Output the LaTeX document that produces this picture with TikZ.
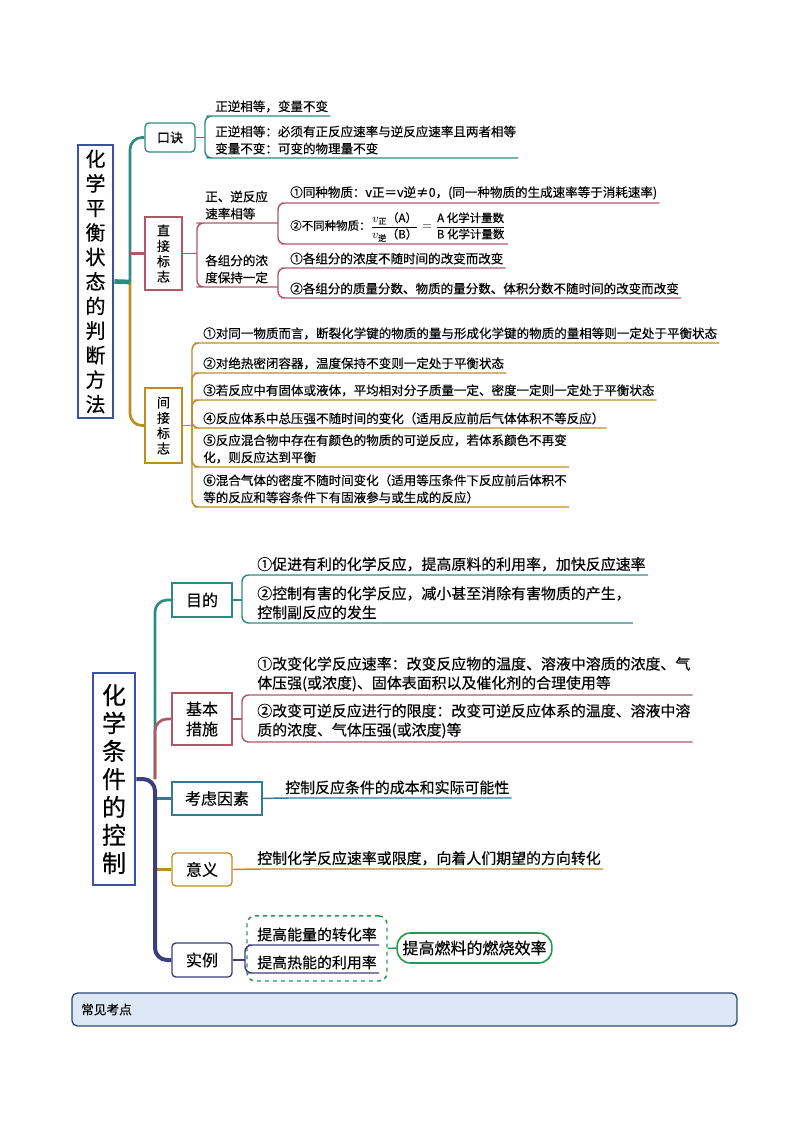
\documentclass[tikz,border=0pt]{standalone}
\usepackage{amsmath}
\usepackage{fontspec}
\setmainfont{Noto Sans CJK SC}[UprightFeatures={FakeBold=0.35}]
\usepackage{tikz}
\usetikzlibrary{fit}
\definecolor{titleblue}{RGB}{60,80,170}
\definecolor{mapteal}{RGB}{45,140,128}
\definecolor{maprose}{RGB}{176,88,104}
\definecolor{mapgold}{RGB}{190,140,35}
\definecolor{mapnavy}{RGB}{62,62,125}
\definecolor{mapsteel}{RGB}{55,120,150}
\definecolor{mapgreen}{RGB}{40,150,85}
\definecolor{notefill}{RGB}{220,232,245}
\definecolor{noteedge}{RGB}{45,70,115}

\begin{document}
\begin{tikzpicture}[
    x=0.75pt, y=-0.75pt,
    headbox/.style={draw=titleblue, line width=2.2pt, align=center, inner sep=0pt},
    topic/.style={draw=#1, line width=1pt, align=center, inner sep=0pt,
                  font=\fontsize{9.8}{11.5}\selectfont},
    bigtopic/.style={topic=#1, font=\fontsize{12}{15}\selectfont},
    leaf/.style={anchor=south west, align=left, inner xsep=1.5pt, inner ysep=2.5pt,
                 font=\fontsize{9.4}{12.8}\selectfont},
    bigleaf/.style={leaf, font=\fontsize{11.2}{14.3}\selectfont},
    twig/.style={draw=#1, line width=1.1pt, rounded corners=5pt},
    limb/.style={draw=#1, line width=2pt, rounded corners=9pt},
]
\useasboundingbox (0,0) rectangle (794,1123);

%% ---- upper map
\node[headbox, font=\fontsize{15}{18.4}\selectfont,
      minimum width=26.25pt, minimum height=204.75pt] (balance) at (95.5,281.5)
    {化\\学\\平\\衡\\状\\态\\的\\判\\断\\方\\法};
\coordinate (hubA) at (130,282);

\node[topic=mapteal, rounded corners=3pt, minimum width=37.5pt, minimum height=21.75pt]
    (koujue) at (170,137.5) {口诀};
\node[topic=maprose, minimum width=27.75pt, minimum height=54.75pt]
    (zhijie) at (163.5,253.5) {直\\接\\标\\志};
\node[topic=mapgold, minimum width=27.75pt, minimum height=56.25pt]
    (jianjie) at (163.5,425.5) {间\\接\\标\\志};

\coordinate (kb) at (205,137.5);
\node[leaf] (k1) at (213,116) {正逆相等，变量不变};
\node[leaf] (k2) at (213,158) {正逆相等：必须有正反应速率与逆反应速率且两者相等\\变量不变：可变的物理量不变};

\coordinate (zb) at (197,253.5);
\coordinate (zb1) at (278,223);
\coordinate (zb2) at (278,287);
\node[leaf] (z1) at (203,223) {正、逆反应\\速率相等};
\node[leaf] (z2) at (203,287) {各组分的浓\\度保持一定};
\node[leaf] (z11) at (288,203) {①同种物质：v正＝v逆≠0，(同一种物质的生成速率等于消耗速率)};
\node[leaf, font=\fontsize{8.6}{10}\selectfont, inner ysep=1.5pt] (z12) at (288,244)
    {②不同种物质：$\dfrac{v_{\text{正}}\text{（A）}}{v_{\text{逆}}\text{（B）}}=\dfrac{\text{A 化学计量数}}{\text{B 化学计量数}}$};
\node[leaf] (z21) at (288,268) {①各组分的浓度不随时间的改变而改变};
\node[leaf] (z22) at (288,298) {②各组分的质量分数、物质的量分数、体积分数不随时间的改变而改变};

\coordinate (jb) at (192,425.5);
\node[leaf] (j1) at (201,343) {①对同一物质而言，断裂化学键的物质的量与形成化学键的物质的量相等则一定处于平衡状态};
\node[leaf] (j2) at (201,373) {②对绝热密闭容器，温度保持不变则一定处于平衡状态};
\node[leaf] (j3) at (201,400) {③若反应中有固体或液体，平均相对分子质量一定、密度一定则一定处于平衡状态};
\node[leaf] (j4) at (201,428) {④反应体系中总压强不随时间的变化（适用反应前后气体体积不等反应）};
\node[leaf] (j5) at (201,467) {⑤反应混合物中存在有颜色的物质的可逆反应，若体系颜色不再变\\化，则反应达到平衡};
\node[leaf] (j6) at (201,507) {⑥混合气体的密度不随时间变化（适用等压条件下反应前后体积不\\等的反应和等容条件下有固液参与或生成的反应）};

\draw[limb=mapteal] (hubA) |- (koujue.west);
\draw[twig=maprose, line width=1.6pt] (zhijie.west -| hubA) -- (zhijie.west);
\draw[limb=mapgold] (hubA) |- (jianjie.west);
\draw[mapteal, line width=3.5pt] (balance.east) -- (hubA);

\draw[twig=mapteal] (koujue.east) -- (kb);
\foreach \n in {k1,k2}
    \draw[twig=mapteal] (kb) |- (\n.south west) -- (\n.south east);

\draw[twig=maprose] (zhijie.east) -- (zb);
\draw[twig=maprose] (zb) |- (z1.south west) -- (zb1);
\draw[twig=maprose] (zb) |- (z2.south west) -- (zb2);
\foreach \n in {z11,z12}
    \draw[twig=maprose] (zb1) |- (\n.south west) -- (\n.south east);
\foreach \n in {z21,z22}
    \draw[twig=maprose] (zb2) |- (\n.south west) -- (\n.south east);

\draw[twig=mapgold] (jianjie.east) -- (jb);
\foreach \n in {j1,j2,j3,j4,j5,j6}
    \draw[twig=mapgold] (jb) |- (\n.south west) -- (\n.south east);

%% ---- lower map
\node[headbox, font=\fontsize{18}{21}\selectfont,
      minimum width=31.5pt, minimum height=159pt] (control) at (114,779)
    {化\\学\\条\\件\\的\\控\\制};
\coordinate (hubB) at (155,779);

\node[bigtopic=mapteal, minimum width=45pt, minimum height=25.5pt] (mudi) at (202,600) {目的};
\node[bigtopic=maprose, minimum width=45pt, minimum height=39pt] (cuoshi) at (202,719) {基本\\措施};
\node[bigtopic=mapsteel, minimum width=67.5pt, minimum height=24.75pt] (yinsu) at (217,798.5) {考虑因素};
\node[bigtopic=mapgold, rounded corners=3pt, minimum width=45pt, minimum height=24.75pt] (yiyi) at (202,869.5) {意义};
\node[bigtopic=mapnavy, rounded corners=3pt, minimum width=45pt, minimum height=25.5pt] (shili) at (202,960) {实例};

\coordinate (mb) at (242,600);
\node[bigleaf] (m1) at (255,575) {①促进有利的化学反应，提高原料的利用率，加快反应速率};
\node[bigleaf] (m2) at (255,623) {②控制有害的化学反应，减小甚至消除有害物质的产生，\\控制副反应的发生};

\coordinate (cb) at (242,719);
\node[bigleaf] (c1) at (255,695) {①改变化学反应速率：改变反应物的温度、溶液中溶质的浓度、气\\体压强(或浓度)、固体表面积以及催化剂的合理使用等};
\node[bigleaf] (c2) at (255,742) {②改变可逆反应进行的限度：改变可逆反应体系的温度、溶液中溶\\质的浓度、气体压强(或浓度)等};

\node[bigleaf] (yt) at (283,798) {控制反应条件的成本和实际可能性};
\node[bigleaf] (yyt) at (255,869) {控制化学反应速率或限度，向着人们期望的方向转化};

\coordinate (sb) at (245,960);
\node[bigleaf] (s1) at (255,945) {提高能量的转化率};
\node[bigleaf] (s2) at (255,973) {提高热能的利用率};
\node[draw=mapgreen, dashed, line width=1.1pt, rounded corners=6pt, inner sep=6pt, fit=(s1)(s2)] (group) {};
\node[bigtopic=mapgreen, line width=1.2pt, rounded corners=10pt, minimum width=116pt, minimum height=22.5pt]
    (ranshao) at (474.5,948) {提高燃料的燃烧效率};

\draw[limb=mapteal] (hubB) |- (mudi.west);
\draw[limb=maprose] (hubB) |- (cuoshi.west);
\draw[twig=mapsteel, line width=1.6pt] (yinsu.west -| hubB) -- (yinsu.west);
\draw[twig=mapgold, line width=1.6pt] (yiyi.west -| hubB) -- (yiyi.west);
\draw[limb=mapnavy, line width=3pt] (control.east) -- (hubB) |- (shili.west);

\draw[twig=mapteal] (mudi.east) -- (mb);
\foreach \n in {m1,m2}
    \draw[twig=mapteal] (mb) |- (\n.south west) -- (\n.south east);
\draw[twig=maprose] (cuoshi.east) -- (cb);
\foreach \n in {c1,c2}
    \draw[twig=maprose] (cb) |- (\n.south west) -- (\n.south east);
\draw[twig=mapsteel] (yinsu.east) -- (yt.south west) -- (yt.south east);
\draw[twig=mapgold] (yiyi.east) -- (yyt.south west) -- (yyt.south east);
\draw[twig=mapnavy] (shili.east) -- (sb);
\foreach \n in {s1,s2}
    \draw[twig=mapnavy] (sb) |- (\n.south west) -- (\n.south east);
\draw[twig=mapgreen] (group.east) -- (ranshao.west);

%% ---- footer bar
\node[draw=noteedge, fill=notefill, line width=1pt, rounded corners=4pt,
      minimum width=498.75pt, minimum height=24.75pt, text width=485pt, align=left,
      inner xsep=6pt, font=\fontsize{9.5}{11}\selectfont] (kaodian) at (404.5,1009.5) {常见考点};
\end{tikzpicture}
\end{document}
